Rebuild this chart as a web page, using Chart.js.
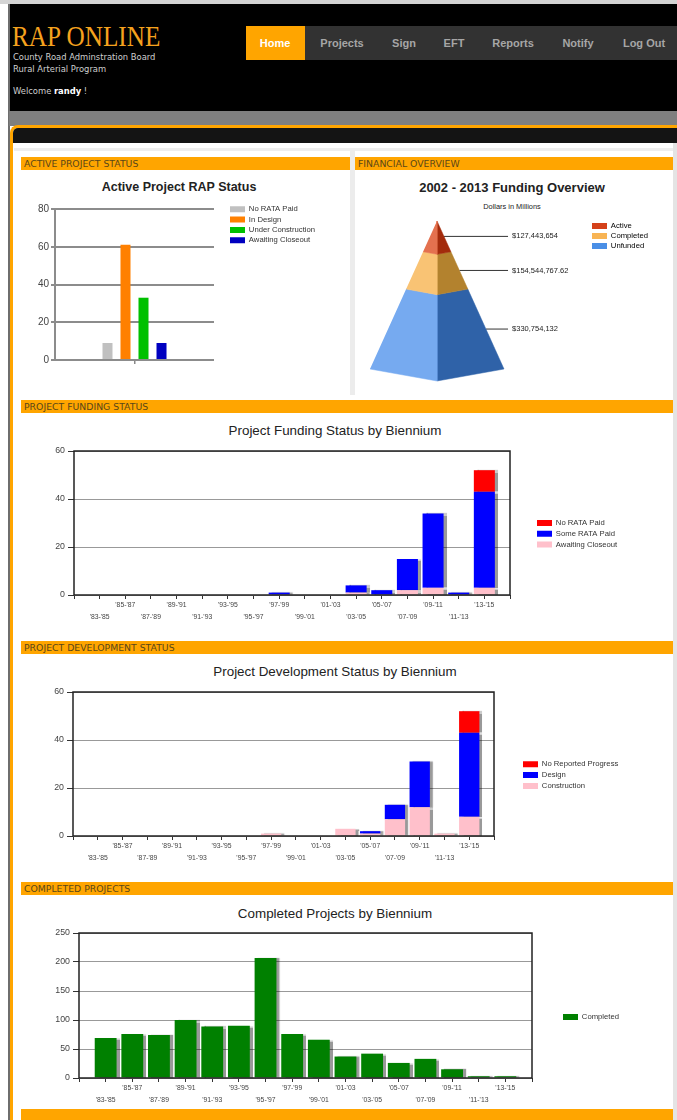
<!DOCTYPE html>
<html lang="en">
<head>
<meta charset="utf-8">
<title>RAP Online - Home</title>
<script src="https://cdn.jsdelivr.net/npm/chart.js@4.4.1/dist/chart.umd.min.js"></script>
<style>
  body { margin: 0; width: 677px; height: 1120px; position: relative; overflow: hidden; background: #fff; font-family: 'Liberation Sans', Arial, sans-serif; }
  .abs { position: absolute; }
  #topStrip { left: 0; top: 0; width: 677px; height: 4px; background: #d4d4d4; }
  #leftRule { left: 8px; top: 4px; width: 2px; height: 1116px; background: #6e6e6e; }
  #header { left: 9px; top: 4px; width: 668px; height: 107px; background: #000; }
  #logo { left: 12px; top: 20px; font-family: 'Liberation Serif', 'Times New Roman', serif; font-size: 29px; line-height: 32px; color: #f5a21e; transform: scaleX(0.87); transform-origin: left top; white-space: nowrap; }
  .sub { left: 13px; font-family: 'DejaVu Sans', Verdana, sans-serif; font-size: 8.4px; color: #cfcfcf; white-space: nowrap; transform: translateY(-50%); }
  #nav { left: 246px; top: 26px; width: 431px; height: 34px; background: #323232; }
  #home { left: 246px; top: 26px; width: 59px; height: 34px; background: #ffa500; }
  .navItem { top: 43px; font-weight: bold; font-size: 11px; color: #a6a6a6; transform: translate(-50%, -50%); white-space: nowrap; }
  #grayBand { left: 9px; top: 111px; width: 668px; height: 15px; background: #7f7f7f; }
  #frame { left: 10px; top: 125px; width: 667px; height: 1000px; border-left: 3px solid #ffa500; border-top: 3px solid #ffa500; border-top-left-radius: 8px; background: #fff; }
  #blackBand { left: 13px; top: 128px; width: 664px; height: 15px; background: #141414; border-top-left-radius: 5px; }
  #scroll { left: 673px; top: 143px; width: 4px; height: 977px; background: #e4e4e4; }
  #topRule { left: 14px; top: 148px; width: 659px; height: 3px; background: #eeeeee; }
  #divider { left: 350px; top: 150px; width: 5px; height: 245px; background: #ececec; }
  .sect { height: 13px; background: #ffa500; color: #5a4718; font-family: 'DejaVu Sans', Verdana, sans-serif; font-size: 9.3px; line-height: 14px; padding-left: 3px; box-sizing: border-box; white-space: nowrap; overflow: hidden; }
  .ctitle { transform: translate(-50%, -50%); white-space: nowrap; color: #222; font-size: 13.4px; }
  canvas { position: absolute; }
</style>
</head>
<body>
<div class="abs" id="topStrip"></div>
<div class="abs" id="header"></div>
<div class="abs" id="leftRule"></div>
<div class="abs" id="logo">RAP ONLINE</div>
<div class="abs sub" style="top:57px">County Road Adminstration Board</div>
<div class="abs sub" style="top:69px">Rural Arterial Program</div>
<div class="abs sub" style="top:91px">Welcome <b style="color:#fff">randy</b> !</div>
<div class="abs" id="nav"></div>
<div class="abs" id="home"></div>
<div class="abs navItem" style="left:275px;color:#fff">Home</div>
<div class="abs navItem" style="left:342px">Projects</div>
<div class="abs navItem" style="left:404px">Sign</div>
<div class="abs navItem" style="left:454px">EFT</div>
<div class="abs navItem" style="left:513px">Reports</div>
<div class="abs navItem" style="left:578px">Notify</div>
<div class="abs navItem" style="left:644px">Log Out</div>
<div class="abs" id="grayBand"></div>
<div class="abs" id="frame"></div>
<div class="abs" id="blackBand"></div>
<div class="abs" id="scroll"></div>
<div class="abs" id="topRule"></div>
<div class="abs" id="divider"></div>

<div class="abs sect" style="left:21px;top:157px;width:329px">ACTIVE PROJECT STATUS</div>
<div class="abs sect" style="left:355px;top:157px;width:318px">FINANCIAL OVERVIEW</div>
<div class="abs sect" style="left:21px;top:400px;width:652px">PROJECT FUNDING STATUS</div>
<div class="abs sect" style="left:21px;top:641px;width:652px">PROJECT DEVELOPMENT STATUS</div>
<div class="abs sect" style="left:21px;top:882px;width:652px">COMPLETED PROJECTS</div>
<div class="abs sect" style="left:21px;top:1109px;width:652px;height:11px"></div>

<div class="abs ctitle" style="left:179px;top:187px;font-weight:bold;font-size:12.5px">Active Project RAP Status</div>
<div class="abs ctitle" style="left:512px;top:187px;font-weight:bold;font-size:13px">2002 - 2013 Funding Overview</div>
<div class="abs ctitle" style="left:512px;top:206px;font-size:7.4px">Dollars in Millions</div>
<div class="abs ctitle" style="left:335px;top:430px">Project Funding Status by Biennium</div>
<div class="abs ctitle" style="left:335px;top:671px">Project Development Status by Biennium</div>
<div class="abs ctitle" style="left:335px;top:913px">Completed Projects by Biennium</div>

<canvas id="rapChart" width="330" height="190" style="left:20px;top:195px"></canvas>
<canvas id="fundChart" width="317" height="195" style="left:355px;top:195px"></canvas>
<canvas id="fundingChart" width="652" height="190" style="left:20px;top:440px"></canvas>
<canvas id="devChart" width="652" height="190" style="left:20px;top:680px"></canvas>
<canvas id="completedChart" width="652" height="190" style="left:20px;top:920px"></canvas>

<script>
// ---- data ----
const BIENNIA = ["'83-'85", "'85-'87", "'87-'89", "'89-'91", "'91-'93", "'93-'95", "'95-'97", "'97-'99",
                 "'99-'01", "'01-'03", "'03-'05", "'05-'07", "'07-'09", "'09-'11", "'11-'13", "'13-'15"];

const RAP_STATUS = ['No RATA Paid', 'In Design', 'Under Construction', 'Awaiting Closeout'];
const RAP_COUNTS = [9, 61, 33, 9];
const RAP_COLORS = ['#c0c0c0', '#ff8000', '#00c000', '#0000c0'];

const FUND_LABELS = ['Active', 'Completed', 'Unfunded'];
const FUND_DOLLARS = [127443654, 154544767.62, 330754132];
const FUND_LEGEND = ['#d4411a', '#f8b454', '#4a8fe6'];
const FUND_LEFT = ['#e4714f', '#f9c374', '#76aaf0'];
const FUND_RIGHT = ['#a32b0c', '#b3822e', '#2f62a8'];

const FUNDING_AWAITING = [0, 0, 0, 0, 0, 0, 0, 0, 0, 0, 1, 0, 2, 3, 0, 3];
const FUNDING_SOME_RATA = [0, 0, 0, 0, 0, 0, 0, 1, 0, 0, 3, 2, 13, 31, 1, 40];
const FUNDING_NO_RATA = [0, 0, 0, 0, 0, 0, 0, 0, 0, 0, 0, 0, 0, 0, 0, 9];

const DEV_CONSTRUCTION = [0, 0, 0, 0, 0, 0, 0, 1, 0, 0, 3, 1, 7, 12, 1, 8];
const DEV_DESIGN = [0, 0, 0, 0, 0, 0, 0, 0, 0, 0, 0, 1, 6, 19, 0, 35];
const DEV_NO_PROGRESS = [0, 0, 0, 0, 0, 0, 0, 0, 0, 0, 0, 0, 0, 0, 0, 9];

const COMPLETED = [69, 76, 74, 100, 89, 90, 207, 76, 66, 37, 42, 26, 33, 15, 3, 3];

Chart.defaults.font.family = "'Liberation Sans', Arial, sans-serif";
Chart.defaults.color = '#444';
Chart.defaults.animation = false;
Chart.defaults.plugins.tooltip.enabled = false;

// puts a 'chartArea' legend at a fixed spot: x = left of the colour box, y = middle of first row
const legendAt = {
    id: 'legendAt',
    afterLayout(chart, args, opts) {
        const lg = chart.legend;
        if (!lg || opts.x === undefined) return;
        const pad = lg.options.labels.padding;
        const size = lg.options.labels.font.size;
        const w = lg.width, h = lg.height;
        lg.left = opts.x - pad;
        lg.top = opts.y - pad - size / 2;
        lg.right = lg.left + w;
        lg.bottom = lg.top + h;
    }
};

const barShadow = {
    id: 'barShadow',
    beforeDatasetsDraw(chart, args, opts) {
        if (!opts.on) return;
        const ctx = chart.ctx;
        ctx.save();
        ctx.shadowColor = 'rgba(0,0,0,0.4)';
        ctx.shadowOffsetX = 3;
        ctx.shadowOffsetY = 0;
        ctx.shadowBlur = 1;
    },
    afterDatasetsDraw(chart, args, opts) {
        if (opts.on) chart.ctx.restore();
    }
};

const plotFrame = {
    id: 'plotFrame',
    afterDraw(chart, args, opts) {
        if (!opts.color) return;
        const { ctx, chartArea: a } = chart;
        ctx.save();
        ctx.strokeStyle = opts.color;
        ctx.lineWidth = opts.width;
        ctx.strokeRect(a.left, a.top, a.right - a.left, a.bottom - a.top);
        ctx.restore();
    }
};

const pyramidLabels = {
    id: 'pyramidLabels',
    afterDatasetsDraw(chart, args, opts) {
        if (!opts.items) return;
        const { ctx, scales: { x, y } } = chart;
        ctx.save();
        ctx.font = opts.font;
        ctx.fillStyle = opts.color;
        ctx.textBaseline = 'middle';
        opts.items.forEach(it => ctx.fillText(it.text, x.getPixelForValue(it.x), y.getPixelForValue(it.y)));
        ctx.restore();
    }
};

const legendLabels = (padding) => ({ boxWidth: 15, boxHeight: 6, padding, font: { size: 7.7 }, color: '#333' });

// Active project status
new Chart(document.getElementById('rapChart'), {
    type: 'bar',
    data: {
        labels: [''],
        datasets: RAP_STATUS.map((name, i) => ({
            label: name, data: [RAP_COUNTS[i]], backgroundColor: RAP_COLORS[i],
            barPercentage: 0.556, categoryPercentage: 0.453
        }))
    },
    options: {
        responsive: false,
        layout: { padding: { left: 0, top: 14, right: 136, bottom: 15 } },
        scales: {
            x: {
                grid: { drawOnChartArea: false, offset: false, tickLength: 4, color: '#888', lineWidth: 1.5 },
                border: { display: false },
                ticks: { display: false },
                afterFit: s => { s.height = 10; }
            },
            y: {
                min: 0, max: 80,
                ticks: { stepSize: 20, padding: 2, font: { size: 10 }, color: '#444' },
                grid: { color: '#8c8c8c', lineWidth: 2, tickLength: 4 },
                border: { color: '#8c8c8c', width: 2 },
                afterFit: s => { s.width = 35; }
            }
        },
        plugins: {
            legend: { position: 'chartArea', align: 'start', labels: legendLabels(2.6) },
            legendAt: { x: 210, y: 14.3 }
        }
    },
    plugins: [legendAt]
});

// Funding pyramid
const PYR = { apexX: 82, apexY: 26, halfBase: 67, height: 148, depth: 12 };
const LEADER_END = 1.06;
const LABEL_X = 1.12;
const fundTotal = FUND_DOLLARS.reduce((a, b) => a + b, 0);
const bounds = [0];
FUND_DOLLARS.forEach(v => bounds.push(bounds[bounds.length - 1] + v / fundTotal));
const k = PYR.depth / PYR.height;

const pyramidSets = [];
const labelItems = [];
FUND_LABELS.forEach((name, i) => {
    const f0 = bounds[i], f1 = bounds[i + 1], mid = (f0 + f1) / 2;
    const face = (pts, color) => ({
        label: name, data: pts, showLine: true, fill: 'shape', tension: 0,
        backgroundColor: color, borderColor: color, borderWidth: 0.5, pointRadius: 0
    });
    pyramidSets.push(face([{ x: -f0, y: f0 }, { x: 0, y: f0 * (1 + k) }, { x: 0, y: f1 * (1 + k) }, { x: -f1, y: f1 }], FUND_LEFT[i]));
    pyramidSets.push(face([{ x: 0, y: f0 * (1 + k) }, { x: f0, y: f0 }, { x: f1, y: f1 }, { x: 0, y: f1 * (1 + k) }], FUND_RIGHT[i]));
    pyramidSets.push({
        label: name + ' value', data: [{ x: mid, y: mid }, { x: LEADER_END, y: mid }], showLine: true, fill: false,
        borderColor: '#333', borderWidth: 1, pointRadius: 0
    });
    labelItems.push({
        text: '$' + FUND_DOLLARS[i].toLocaleString('en-US', { maximumFractionDigits: 2 }),
        x: LABEL_X, y: mid
    });
});

new Chart(document.getElementById('fundChart'), {
    type: 'line',
    data: { datasets: pyramidSets },
    options: {
        responsive: false,
        layout: { padding: 0 },
        scales: {
            x: { type: 'linear', display: false, min: -PYR.apexX / PYR.halfBase, max: (317 - PYR.apexX) / PYR.halfBase },
            y: { type: 'linear', display: false, reverse: true, min: -PYR.apexY / PYR.height, max: (195 - PYR.apexY) / PYR.height }
        },
        plugins: {
            legend: {
                position: 'chartArea', align: 'start',
                labels: {
                    ...legendLabels(2.3),
                    generateLabels: () => FUND_LABELS.map((t, i) => ({
                        text: t, fillStyle: FUND_LEGEND[i], strokeStyle: FUND_LEGEND[i], lineWidth: 0, hidden: false, datasetIndex: i * 3
                    }))
                }
            },
            legendAt: { x: 237, y: 31 },
            pyramidLabels: { items: labelItems, font: "7.5px 'Liberation Sans', Arial, sans-serif", color: '#222' }
        }
    },
    plugins: [legendAt, pyramidLabels]
});

// biennium bar charts
function biennialChart(canvasId, cfg) {
    const labels = ['', ...BIENNIA, ''];
    const pad = arr => [null, ...arr, null];
    return new Chart(document.getElementById(canvasId), {
        type: 'bar',
        data: {
            labels,
            datasets: cfg.series.map(s => ({
                label: s.label, data: pad(s.data), backgroundColor: s.color,
                barPercentage: 0.82, categoryPercentage: 1
            }))
        },
        options: {
            responsive: false,
            layout: { padding: cfg.padding },
            scales: {
                x: {
                    stacked: true, offset: false,
                    grid: { drawOnChartArea: false, offset: false, tickLength: 4, color: '#333' },
                    border: { display: false },
                    ticks: {
                        autoSkip: false, maxRotation: 0, padding: 0,
                        font: { size: 6.8, lineHeight: '12px' }, color: '#444',
                        callback: (v, i) => {
                            const t = labels[i];
                            if (!t) return '';
                            return (i - 1) % 2 === 0 ? ['', t] : t;
                        }
                    },
                    afterFit: s => { s.height = 30; }
                },
                y: {
                    stacked: true, min: 0, max: cfg.max,
                    ticks: { stepSize: cfg.step, padding: 3, font: { size: 8.8 }, color: '#444' },
                    grid: { color: '#999', tickColor: '#333', tickLength: 6 },
                    border: { display: false },
                    afterFit: s => { s.width = cfg.yWidth; }
                }
            },
            plugins: {
                legend: { position: 'chartArea', align: 'start', reverse: true, labels: legendLabels(3.1) },
                legendAt: cfg.legendAt,
                barShadow: { on: true },
                plotFrame: { color: '#222', width: 1.5 }
            }
        },
        plugins: [legendAt, barShadow, plotFrame]
    });
}

biennialChart('fundingChart', {
    series: [
        { label: 'Awaiting Closeout', data: FUNDING_AWAITING, color: '#ffc0cb' },
        { label: 'Some RATA Paid', data: FUNDING_SOME_RATA, color: '#0000ff' },
        { label: 'No RATA Paid', data: FUNDING_NO_RATA, color: '#ff0000' }
    ],
    max: 60, step: 20, yWidth: 54,
    padding: { left: 0, top: 11, right: 162, bottom: 5 },
    legendAt: { x: 517, y: 83 }
});

biennialChart('devChart', {
    series: [
        { label: 'Construction', data: DEV_CONSTRUCTION, color: '#ffc0cb' },
        { label: 'Design', data: DEV_DESIGN, color: '#0000ff' },
        { label: 'No Reported Progress', data: DEV_NO_PROGRESS, color: '#ff0000' }
    ],
    max: 60, step: 20, yWidth: 53,
    padding: { left: 0, top: 12, right: 178, bottom: 4 },
    legendAt: { x: 503, y: 84.3 }
});

biennialChart('completedChart', {
    series: [
        { label: 'Completed', data: COMPLETED, color: '#008000' }
    ],
    max: 250, step: 50, yWidth: 59,
    padding: { left: 0, top: 13, right: 140, bottom: 2 },
    legendAt: { x: 543, y: 97 }
});
</script>
</body>
</html>
